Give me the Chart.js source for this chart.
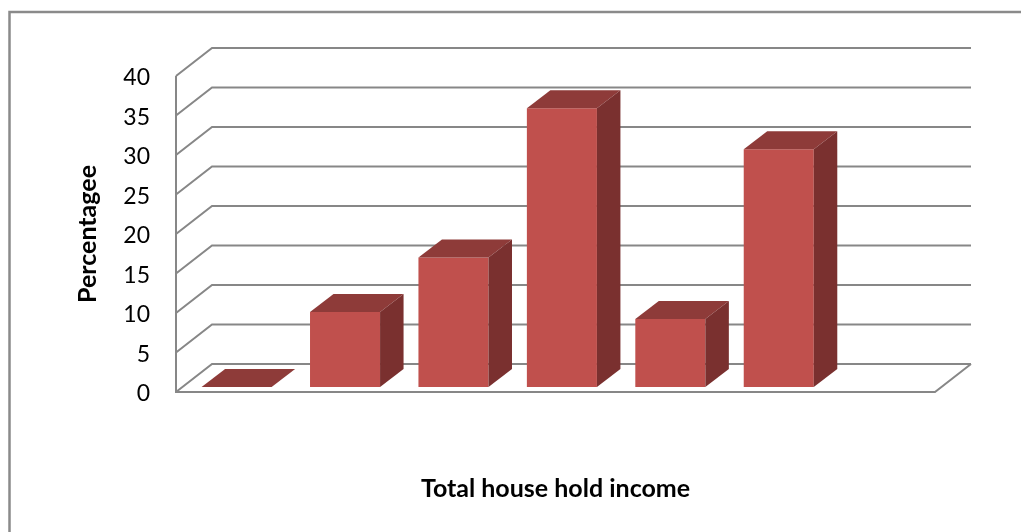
<!DOCTYPE html>
<html>
<head>
<meta charset="utf-8">
<title>Total house hold income</title>
<script src="https://cdn.jsdelivr.net/npm/chart.js@4.4.1/dist/chart.umd.min.js"></script>
<style>
  html, body { margin: 0; padding: 0; background: #fff; }
  canvas { display: block; }
</style>
</head>
<body>
<canvas id="incomeChart" width="1021" height="532"></canvas>
<script>
// Số liệu của biểu đồ
const categories = ['1', '2', '3', '4', '5', '6', '7'];
const percentValues = [0, 9.5, 16.4, 35.3, 8.6, 30.1, null];
const tickValues = [0, 5, 10, 15, 20, 25, 30, 35, 40];

// Độ sâu của khung 3D và của cột
const wallDepth = { dx: 36, dy: 28 };
const barShift = { dx: 6.4, dy: 5 };
const barDepth = { dx: 23.5, dy: 18 };
const gridColor = '#878787';

// Vẽ khung viền, tường sau và sàn theo trục y
const frame3d = {
  id: 'frame3d',
  beforeDraw(chart) {
    const { ctx, chartArea } = chart;
    const yScale = chart.scales.y;
    const L = chartArea.left, R = chartArea.right;
    ctx.save();
    // khung viền ngoài
    ctx.strokeStyle = '#8a8a8a';
    ctx.lineWidth = 2.5;
    ctx.beginPath();
    ctx.moveTo(9.5, 540);
    ctx.lineTo(9.5, 12);
    ctx.lineTo(1030, 12);
    ctx.stroke();

    ctx.strokeStyle = gridColor;
    ctx.lineWidth = 2;
    tickValues.forEach(v => {
      const y = yScale.getPixelForValue(v);
      ctx.beginPath();
      ctx.moveTo(L, y);
      ctx.lineTo(L + wallDepth.dx, y - wallDepth.dy);
      ctx.lineTo(R + wallDepth.dx, y - wallDepth.dy);
      ctx.stroke();
    });
    const y0 = yScale.getPixelForValue(0);
    const yTop = yScale.getPixelForValue(40);
    // trục đứng phía trước và mép sàn
    ctx.beginPath();
    ctx.moveTo(L, yTop);
    ctx.lineTo(L, y0);
    ctx.lineTo(R, y0);
    ctx.lineTo(R + wallDepth.dx, y0 - wallDepth.dy);
    ctx.stroke();
    ctx.restore();
  },
  beforeDatasetsDraw(chart) {
    chart.ctx.save();
    chart.ctx.translate(barShift.dx, -barShift.dy);
  },
  afterDatasetsDraw(chart) {
    const { ctx } = chart;
    const meta = chart.getDatasetMeta(0);
    meta.data.forEach((el, i) => {
      if (percentValues[i] === null) return;
      const { x, y, base, width } = el.getProps(['x', 'y', 'base', 'width'], true);
      const l = x - width / 2, r = x + width / 2;
      // mặt trên
      ctx.fillStyle = '#8e3b39';
      ctx.beginPath();
      ctx.moveTo(l, y);
      ctx.lineTo(r, y);
      ctx.lineTo(r + barDepth.dx, y - barDepth.dy);
      ctx.lineTo(l + barDepth.dx, y - barDepth.dy);
      ctx.closePath();
      ctx.fill();
      // mặt bên
      ctx.fillStyle = '#7a302f';
      ctx.beginPath();
      ctx.moveTo(r, y);
      ctx.lineTo(r + barDepth.dx, y - barDepth.dy);
      ctx.lineTo(r + barDepth.dx, base - barDepth.dy);
      ctx.lineTo(r, base);
      ctx.closePath();
      ctx.fill();
    });
    ctx.restore();
  }
};

Chart.defaults.font.family = 'Lato';
Chart.defaults.color = '#000';

const ctx = document.getElementById('incomeChart').getContext('2d');
const incomeChart = new Chart(ctx, {
  type: 'bar',
  data: {
    labels: categories,
    datasets: [{
      data: percentValues,
      backgroundColor: '#c0504d',
      borderWidth: 0,
      categoryPercentage: 1,
      barPercentage: 0.646
    }]
  },
  options: {
    responsive: false,
    animation: false,
    layout: { padding: { top: 76, right: 86, bottom: 0, left: 0 } },
    plugins: {
      legend: { display: false },
      tooltip: { enabled: false }
    },
    scales: {
      x: {
        grid: { display: false, drawTicks: false },
        border: { display: false },
        ticks: { display: false },
        title: {
          display: true,
          text: 'Total house hold income',
          font: { size: 25, weight: 'bold' },
          padding: { top: 0, bottom: 28 }
        },
        afterFit(scale) { scale.height = 140; }
      },
      y: {
        min: 0,
        max: 40,
        grid: { display: false, drawTicks: false },
        border: { display: false },
        ticks: {
          stepSize: 5,
          padding: 26,
          labelOffset: 2,
          font: { size: 23 }
        },
        title: {
          display: true,
          text: 'Percentagee',
          font: { size: 25, weight: 'bold' },
          padding: { top: 73, bottom: 0 }
        },
        afterFit(scale) { scale.width = 176; }
      }
    }
  },
  plugins: [frame3d]
});
</script>
</body>
</html>
